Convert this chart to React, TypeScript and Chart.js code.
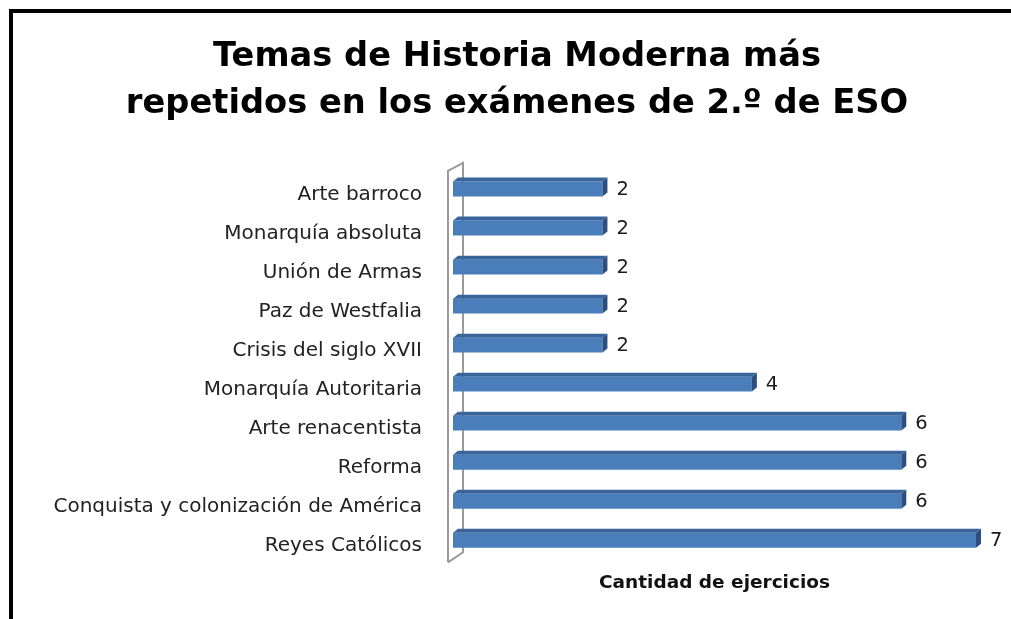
import React, { useEffect, useRef } from "react";
import { Chart, registerables } from "chart.js";

Chart.register(...registerables);

const categories = [
  "Arte barroco",
  "Monarquía absoluta",
  "Unión de Armas",
  "Paz de Westfalia",
  "Crisis del siglo XVII",
  "Monarquía Autoritaria",
  "Arte renacentista",
  "Reforma",
  "Conquista y colonización de América",
  "Reyes Católicos",
];
const values = [2, 2, 2, 2, 2, 4, 6, 6, 6, 7];
const titleLines = ["Temas de Historia Moderna más", "repetidos en los exámenes de 2.º de ESO"];
const axisTitle = "Cantidad de ejercicios";
const axisMin = 0;
const axisMax = 7;

const FONT = '"DejaVu Sans", "Open Sans", sans-serif';
const FRONT = "#4A7EBB";
const TOP = "#3A659C";
const SIDE = "#2B4F7E";
const DEPTH_X = 5;
const DEPTH_Y = 4;
const TITLE_SHIFT = 29;

const titleShiftPlugin = {
  id: "titleShift",
  afterLayout(chart: any) {
    const tb = chart.titleBlock;
    if (tb) {
      tb.left += TITLE_SHIFT;
      tb.right += TITLE_SHIFT;
    }
  },
};

const wallPlugin = {
  id: "wall3d",
  beforeDatasetsDraw(chart: any) {
    const { ctx, chartArea } = chart;
    const l = chartArea.left;
    const fx = l - 5;
    const bx = l + 10;
    const ft = chartArea.top + 1.5;
    const bt = chartArea.top - 6.5;
    const fb = chartArea.bottom + 2.5;
    const bb = chartArea.bottom - 7.5;
    ctx.save();
    ctx.strokeStyle = "#9a9a9a";
    ctx.lineWidth = 2;
    ctx.beginPath();
    ctx.moveTo(fx, fb);
    ctx.lineTo(fx, ft);
    ctx.lineTo(bx, bt);
    ctx.lineTo(bx, bb);
    ctx.lineTo(fx, fb);
    ctx.stroke();
    ctx.restore();
  },
};

const bar3dPlugin = {
  id: "bar3d",
  afterDatasetsDraw(chart: any) {
    const { ctx } = chart;
    const meta = chart.getDatasetMeta(0);
    ctx.save();
    meta.data.forEach((bar: any, i: number) => {
      const { x, y, base, height } = bar.getProps(["x", "y", "base", "height"], true);
      const top = y - height / 2;
      const bottom = y + height / 2;
      ctx.fillStyle = TOP;
      ctx.beginPath();
      ctx.moveTo(base, top);
      ctx.lineTo(x, top);
      ctx.lineTo(x + DEPTH_X, top - DEPTH_Y);
      ctx.lineTo(base + DEPTH_X, top - DEPTH_Y);
      ctx.closePath();
      ctx.fill();
      ctx.fillStyle = SIDE;
      ctx.beginPath();
      ctx.moveTo(x, top);
      ctx.lineTo(x + DEPTH_X, top - DEPTH_Y);
      ctx.lineTo(x + DEPTH_X, bottom - DEPTH_Y);
      ctx.lineTo(x, bottom);
      ctx.closePath();
      ctx.fill();
      ctx.fillStyle = "#1a1a1a";
      ctx.font = `19.5px ${FONT}`;
      ctx.textAlign = "left";
      ctx.textBaseline = "middle";
      ctx.fillText(String(values[i]), x + 14, y + 1);
    });
    ctx.restore();
  },
};

export default function App() {
  const ref = useRef<HTMLCanvasElement | null>(null);

  useEffect(() => {
    if (!ref.current) return;
    const chart = new Chart(ref.current, {
      type: "bar",
      data: {
        labels: categories,
        datasets: [
          {
            data: values,
            backgroundColor: FRONT,
            borderWidth: 0,
            categoryPercentage: 1,
            barPercentage: 0.38,
          },
        ],
      },
      options: {
        indexAxis: "y",
        responsive: false,
        animation: false,
        devicePixelRatio: 1,
        layout: { padding: { left: 0, right: 35, top: 0, bottom: 25 } },
        plugins: {
          legend: { display: false },
          tooltip: { enabled: false },
          title: {
            display: true,
            text: titleLines,
            color: "#000",
            font: { family: FONT, size: 33.7, weight: "bold", lineHeight: 1.4 },
            padding: { top: 33.5, bottom: 41.6 },
          },
        },
        scales: {
          x: {
            min: axisMin,
            max: axisMax,
            ticks: { display: false },
            grid: { display: false, drawTicks: false, tickLength: 0 },
            border: { display: false },
            title: {
              display: true,
              text: axisTitle,
              color: "#111",
              font: { family: FONT, size: 18.5, weight: "bold", lineHeight: 1.2 },
              padding: { top: 12, bottom: 0 },
            },
          },
          y: {
            grid: { display: false, drawTicks: false, tickLength: 0 },
            border: { display: false },
            ticks: {
              font: { family: FONT, size: 20 },
              color: "#222",
              padding: 31,
              labelOffset: 6,
              autoSkip: false,
            },
            afterFit: (s: any) => {
              s.width = 453;
            },
          },
        },
      } as any,
      plugins: [titleShiftPlugin, wallPlugin, bar3dPlugin],
    });
    return () => chart.destroy();
  }, []);

  return (
    <div
      style={{
        position: "fixed",
        left: 0,
        top: 0,
        width: 1011,
        height: 619,
        background: "#fff",
        overflow: "hidden",
      }}
    >
      <div
        style={{
          position: "absolute",
          left: 9,
          top: 9,
          width: 1100,
          height: 700,
          border: "4px solid #000",
          boxSizing: "border-box",
        }}
      />
      <canvas
        ref={ref}
        width={1011}
        height={619}
        style={{ position: "absolute", left: 0, top: 0, width: 1011, height: 619 }}
      />
    </div>
  );
}
